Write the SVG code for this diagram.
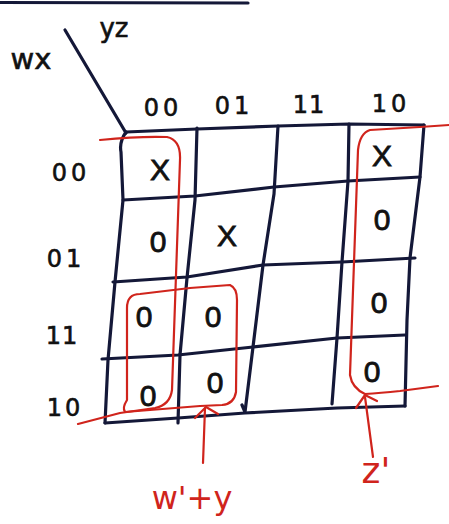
<svg xmlns="http://www.w3.org/2000/svg" width="449" height="524" viewBox="0 0 449 524">
<style>
.g{fill:none;stroke:#141838;stroke-width:3.2;stroke-linecap:round;stroke-linejoin:round}
.r{fill:none;stroke:#d0241c;stroke-width:2.2;stroke-linecap:round;stroke-linejoin:round}
.t{font-family:"DejaVu Sans",sans-serif;fill:#111;text-anchor:middle;stroke:#111;stroke-width:0.6}
.v{font-family:"Liberation Sans",sans-serif;fill:#111;text-anchor:middle;font-size:30px;stroke:#111;stroke-width:0.8}
.lr{font-family:"DejaVu Sans",sans-serif;fill:#d0241c;text-anchor:middle}
</style>
<rect width="449" height="524" fill="#fff"/>
<g id="grid">
<path class="g" d="M0,2.5 L248,3"/>
<path class="g" d="M65,30 Q96,82 126,133"/>
<path class="g" d="M126,132 L197,129 L278,126 L349,124 L424,125"/>
<path class="g" d="M123,200 L195,196 L274,187 L348,181 L420,177"/>
<path class="g" d="M113,282 L187,277 L263,265 L342,262 L415,258"/>
<path class="g" d="M102,359 L178,355 L253,347 L337,338 L405,335"/>
<path class="g" d="M105,423 L178,418 L245,413 L337,408 L405,406"/>
<path class="g" d="M126,132 Q119,142 121,152 L123,200 L115,282 L108,360 L105,423"/>
<path class="g" d="M197,128 L195,200 L187,278 L180,355 L178,423"/>
<path class="g" d="M278,126 L274,194 L263,265 L253,347 L245,412 L242,405"/>
<path class="g" d="M349,124 L348,181 L342,262 L337,338 L332,404"/>
<path class="g" d="M424,125 L420,177 L410,258 L407,320 L405,406"/>
</g>
<g id="axis-labels">
<text class="t" x="31" y="69" font-size="29">wx</text>
<text class="t" x="114" y="37" font-size="26">yz</text>
<text class="t" x="163" y="116" font-size="24" letter-spacing="4">00</text>
<text class="t" x="234" y="114" font-size="24" letter-spacing="4">01</text>
<text class="t" x="309" y="113" font-size="24" letter-spacing="1">11</text>
<text class="t" x="391" y="112" font-size="24" letter-spacing="4">10</text>
<text class="t" x="71" y="181" font-size="24" letter-spacing="4">00</text>
<text class="t" x="66" y="267" font-size="24" letter-spacing="4">01</text>
<text class="t" x="62" y="344" font-size="24" letter-spacing="1">11</text>
<text class="t" x="65" y="416" font-size="24" letter-spacing="3">10</text>
</g>
<g id="cells">
<text class="v" x="160" y="180">X</text>
<text class="v" x="382" y="166">X</text>
<text class="v" x="158" y="252">0</text>
<text class="v" x="227" y="246">X</text>
<text class="v" x="382" y="230">0</text>
<text class="v" x="144" y="327">0</text>
<text class="v" x="213" y="327">0</text>
<text class="v" x="379" y="313">0</text>
<text class="v" x="148" y="406">0</text>
<text class="v" x="215" y="393">0</text>
<text class="v" x="372" y="382">0</text>
</g>
<g id="groups">
<path class="r" d="M100,140 Q140,136 167,137 Q181,140 180,160 L172,390 Q170,405 155,408 L120,413 L78,424"/>
<path class="r" d="M127,308 Q127,294 140,294 L190,288 L230,285 Q237,288 237,300 L236,392 Q234,404 222,405 L200,406 L125,412 Q122,408 127,400 Z"/>
<path class="r" d="M449,125 L420,127 Q385,129 370,130 Q360,133 358,150 L350,375 Q352,388 365,394 Q380,393 400,391 L438,386"/>
</g>
<g id="connectors">
<path class="r" d="M203,463 L205,408"/>
<path class="r" d="M195,418 L206,407 L218,414"/>
<path class="r" d="M373,457 L365,397"/>
<path class="r" d="M356,408 L365,395 L377,401"/>
</g>
<g id="labels">
<text class="lr" x="192" y="509" font-size="32">w'+y</text>
<text class="lr" x="376" y="483" font-size="36">z'</text>
</g>
</svg>
